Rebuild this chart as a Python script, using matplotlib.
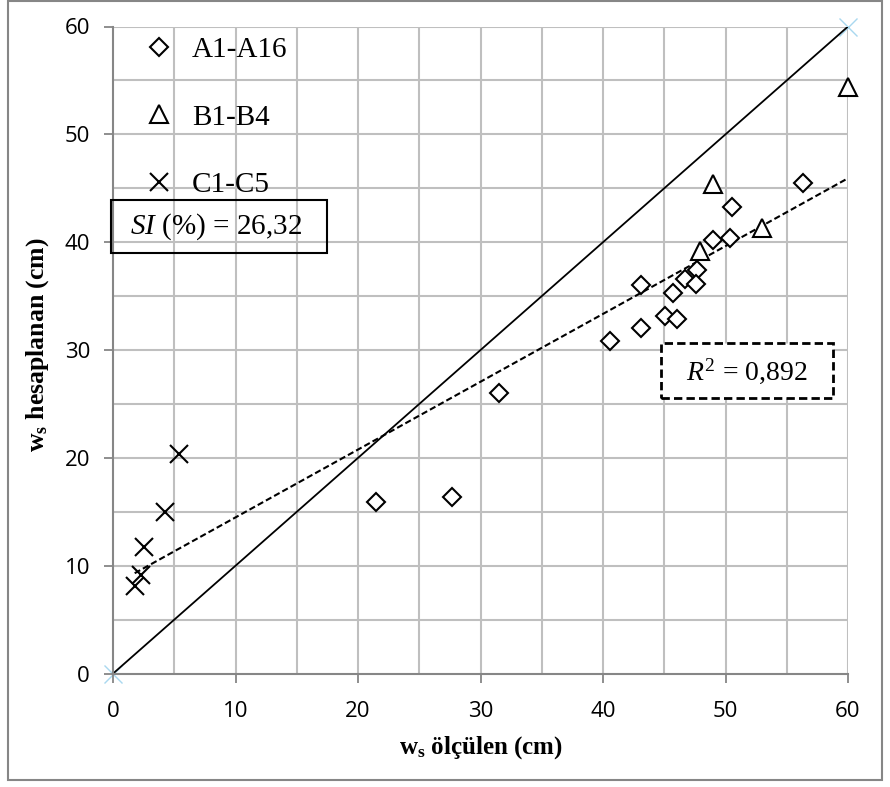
import numpy as np
import matplotlib
matplotlib.use("Agg")
import matplotlib.pyplot as plt
from matplotlib.patches import Rectangle

plt.rcParams.update({
    "font.family": ["Liberation Serif", "DejaVu Serif"],
    "mathtext.fontset": "custom",
    "mathtext.rm": "Liberation Serif",
    "mathtext.it": "Liberation Serif:italic",
    "mathtext.bf": "Liberation Serif:bold",
})

# A1-A16
a_meas = [56.35, 50.56, 48.98, 50.34, 47.7, 46.72, 47.6, 43.1, 45.73, 45.1, 46.0, 43.1, 40.55, 31.5, 21.5, 27.7]
a_calc = [45.46, 43.3, 40.2, 40.36, 37.42, 36.56, 36.1, 36.03, 35.26, 33.16, 32.88, 32.07, 30.81, 26.0, 15.88, 16.4]
# B1-B4
b_meas = [48.95, 52.95, 47.9, 59.97]
b_calc = [45.4, 41.3, 39.2, 54.4]
# C1-C5
c_meas = [5.39, 4.28, 2.5, 2.27, 1.77]
c_calc = [20.36, 14.96, 11.7, 9.17, 8.15]

line_11 = [0, 60]
si_text = r"$SI$ (%) = 26,32"
r2_text = r"$R^2$ = 0,892"

W, H = 890, 787
fig = plt.figure(figsize=(W / 100, H / 100), dpi=100)
ax = fig.add_axes([113 / W, 1 - 673.6 / H, 735 / W, 647.1 / H])

grid_c = "#bfbfbf"
for v in np.arange(5, 61, 5):
    ax.axvline(v, color=grid_c, lw=1.5, zorder=0)
    ax.axhline(v, color=grid_c, lw=1.5, zorder=0)

# 1:1 line
ax.plot(line_11, line_11, color="black", lw=1.3, zorder=2)
ax.plot(line_11, line_11, ls="none", marker="x", ms=13, mew=1, color="#a9d8ef", zorder=1, clip_on=False)

# trend line over all points
all_x = np.array(a_meas + b_meas + c_meas)
all_y = np.array(a_calc + b_calc + c_calc)
k, b = np.polyfit(all_x, all_y, 1)
tx = np.array([all_x.min(), all_x.max()])
ax.plot(tx, k * tx + b, color="black", ls=(0, (3, 1.5)), lw=1.5, zorder=2)

ax.plot(a_meas, a_calc, ls="none", marker="D", ms=9.5, mfc="white", mec="black", mew=1.5, label="A1-A16", zorder=3)
ax.plot(b_meas, b_calc, ls="none", marker="^", ms=13, mfc="white", mec="black", mew=1.5, label="B1-B4", zorder=3, clip_on=False)
ax.plot(c_meas, c_calc, ls="none", marker="x", ms=13, mew=1.5, color="black", label="C1-C5", zorder=3)

ax.set_xlim(0, 60)
ax.set_ylim(0, 60)
ax.set_xticks(range(0, 61, 10))
ax.set_yticks(range(0, 61, 10))
ax.tick_params(direction="out", length=6.5, width=1.3, color="#868686",
               labelsize=16, labelfontfamily="Open Sans")
ax.tick_params(axis="y", pad=10)
ax.tick_params(axis="x", pad=13)
for s in ["top", "right"]:
    ax.spines[s].set_visible(False)
for s in ["left", "bottom"]:
    ax.spines[s].set_color("#868686")
    ax.spines[s].set_linewidth(1.5)

ax.set_xlabel(r"$\mathbf{w_s}$ ölçülen (cm)", fontsize=18, fontweight="bold", va="center")
ax.set_ylabel(r"$\mathbf{w_s}$ hesaplanan (cm)", fontsize=18.5, fontweight="bold", va="center")
ax.xaxis.set_label_coords((481 - 113) / 735, (673.6 - 748) / 647.1)
ax.yaxis.set_label_coords((38 - 113) / 735, (673.6 - 345) / 647.1)

ax.legend(loc="upper left", bbox_to_anchor=(138 / W, 1 - 37 / H), bbox_transform=fig.transFigure,
          frameon=False, fontsize=21, handlelength=1.45, handletextpad=0.4, labelspacing=1.4,
          borderpad=0, borderaxespad=0)

# SI box
fig.patches.append(Rectangle((111 / W, 1 - 253 / H), 216 / W, 53 / H, transform=fig.transFigure,
                             fill=False, ec="black", lw=1.5, zorder=5))
fig.text(216 / W, 1 - 227 / H, si_text, fontsize=21, ha="center", va="center")

# R2 box
fig.patches.append(Rectangle((661 / W, 1 - 398 / H), 172 / W, 55 / H, transform=fig.transFigure,
                             facecolor="white", ec="black", lw=2, ls=(0, (3, 1.5)), zorder=5))
fig.text(747 / W, 1 - 371 / H, r2_text, fontsize=20, ha="center", va="center", zorder=6)

# chart border
fig.patches.append(Rectangle((8 / W, 1 - 780 / H), 874 / W, 779 / H, transform=fig.transFigure,
                             fill=False, ec="#868686", lw=1.5))

fig.savefig("out.png", dpi=100)
